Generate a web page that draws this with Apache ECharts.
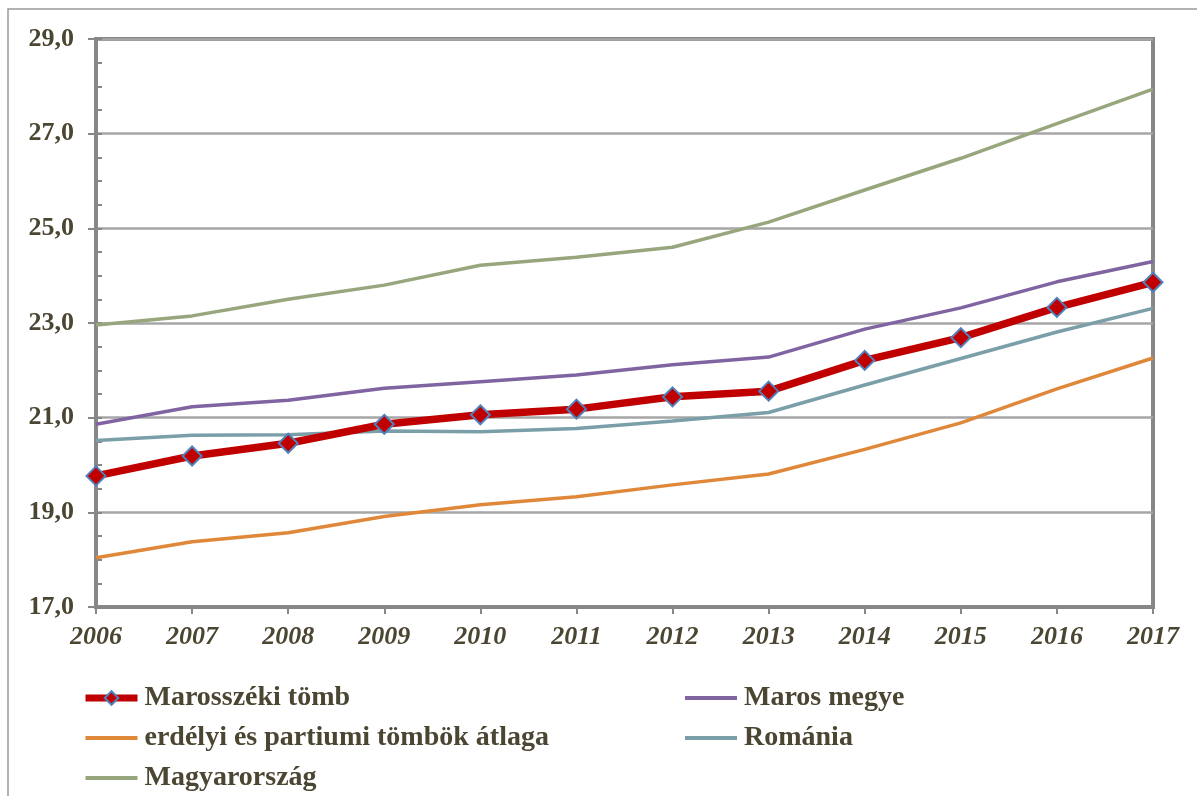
<!DOCTYPE html>
<html>
<head>
<meta charset="utf-8">
<script src="https://cdn.jsdelivr.net/npm/echarts@6/dist/echarts.min.js"></script>
<style>
  html, body { margin: 0; padding: 0; background: #fff; }
  #chart { width: 1197px; height: 796px; }
</style>
</head>
<body>
<div id="chart"></div>
<script>
// évek és sorok
const years = ['2006', '2007', '2008', '2009', '2010', '2011', '2012', '2013', '2014', '2015', '2016', '2017'];
const marosszekiTomb = [19.77, 20.19, 20.46, 20.86, 21.06, 21.18, 21.44, 21.56, 22.21, 22.69, 23.33, 23.86];
const marosMegye = [20.86, 21.23, 21.37, 21.62, 21.76, 21.90, 22.12, 22.28, 22.87, 23.32, 23.87, 24.30];
const erdelyiAtlag = [18.04, 18.38, 18.57, 18.91, 19.16, 19.33, 19.58, 19.81, 20.33, 20.89, 21.61, 22.26];
const romania = [20.52, 20.63, 20.64, 20.72, 20.70, 20.77, 20.93, 21.11, 21.69, 22.25, 22.81, 23.31];
const magyarorszag = [22.96, 23.15, 23.50, 23.80, 24.22, 24.39, 24.60, 25.13, 25.81, 26.48, 27.21, 27.94];

const txt = '#4b4632';
const axisGray = '#878787';
const serif = '"Liberation Serif", "DejaVu Serif", serif';

const colors = {
  'Marosszéki tömb': '#c00000',
  'Maros megye': '#8064a2',
  'erdélyi és partiumi tömbök átlaga': '#e0883a',
  'Románia': '#7a9fa8',
  'Magyarország': '#97a67c',
};

const chart = echarts.init(document.getElementById('chart'));

const thin = (name, data) => ({
  name, type: 'line', data,
  symbol: 'none',
  lineStyle: { color: colors[name], width: 3.5 },
  itemStyle: { color: colors[name] },
  z: 3,
});

// jelmagyarázat elemei: a vékony vonalaknál ne legyen pont
const legendItem = name => name === 'Marosszéki tömb'
  ? { name, lineStyle: { width: 7, color: colors[name] } }
  : { name, itemStyle: { opacity: 0 }, lineStyle: { width: 4, color: colors[name] } };

const legendBase = {
  orient: 'vertical',
  padding: 0,
  height: 140,
  itemWidth: 52,
  itemHeight: 17,
  itemGap: 10,
  textStyle: { fontFamily: serif, fontSize: 28, fontWeight: 'bold', color: txt, lineHeight: 30, padding: [0, 0, 0, 2] },
};

chart.setOption({
  animation: false,
  graphic: [{
    type: 'rect',
    shape: { x: 8, y: 9, width: 1400, height: 1000 },
    style: { fill: 'none', stroke: '#9a9a9a', lineWidth: 1.5 },
    silent: true,
  }],
  grid: {
    left: 96, right: 44, top: 39, bottom: 189,
    show: true, borderColor: axisGray, borderWidth: 4,
  },
  legend: [
    Object.assign({}, legendBase, { left: 82, top: 683, data: ['Marosszéki tömb', 'erdélyi és partiumi tömbök átlaga', 'Magyarország'].map(legendItem) }),
    Object.assign({}, legendBase, { left: 683, top: 683, data: ['Maros megye', 'Románia'].map(legendItem) }),
  ],
  xAxis: {
    type: 'category',
    data: years,
    boundaryGap: false,
    axisLine: { lineStyle: { color: axisGray, width: 4 } },
    axisTick: { show: true, length: 7, lineStyle: { color: axisGray, width: 2 } },
    axisLabel: { fontFamily: serif, fontSize: 26, fontWeight: 'bold', fontStyle: 'italic', color: txt, margin: 17 },
    splitLine: { show: false },
  },
  yAxis: [{
    type: 'value',
    min: 17, max: 29, interval: 2,
    axisLine: { show: true, lineStyle: { color: axisGray, width: 4 } },
    axisTick: { show: true, length: 8, lineStyle: { color: axisGray, width: 2 } },
    axisLabel: {
      fontFamily: serif, fontSize: 26, fontWeight: 'bold', color: txt, margin: 22,
      formatter: v => v.toFixed(1).replace('.', ','),
    },
    splitLine: { show: true, lineStyle: { color: '#a6a6a6', width: 2.5 } },
  }, {
    // belső segédosztások 0,5-ként
    type: 'value',
    position: 'left',
    min: 17, max: 29, interval: 0.5,
    axisLine: { show: false },
    axisTick: { show: true, inside: true, length: 6, lineStyle: { color: axisGray, width: 2 } },
    axisLabel: { show: false },
    splitLine: { show: false },
  }],
  series: [
    thin('Maros megye', marosMegye),
    thin('erdélyi és partiumi tömbök átlaga', erdelyiAtlag),
    thin('Románia', romania),
    thin('Magyarország', magyarorszag),
    {
      name: 'Marosszéki tömb', type: 'line', data: marosszekiTomb,
      symbol: 'diamond', symbolSize: 19,
      lineStyle: { color: colors['Marosszéki tömb'], width: 7.5 },
      itemStyle: { color: colors['Marosszéki tömb'], borderColor: '#4f81bd', borderWidth: 2 },
      z: 5,
    },
  ],
});
</script>
</body>
</html>
